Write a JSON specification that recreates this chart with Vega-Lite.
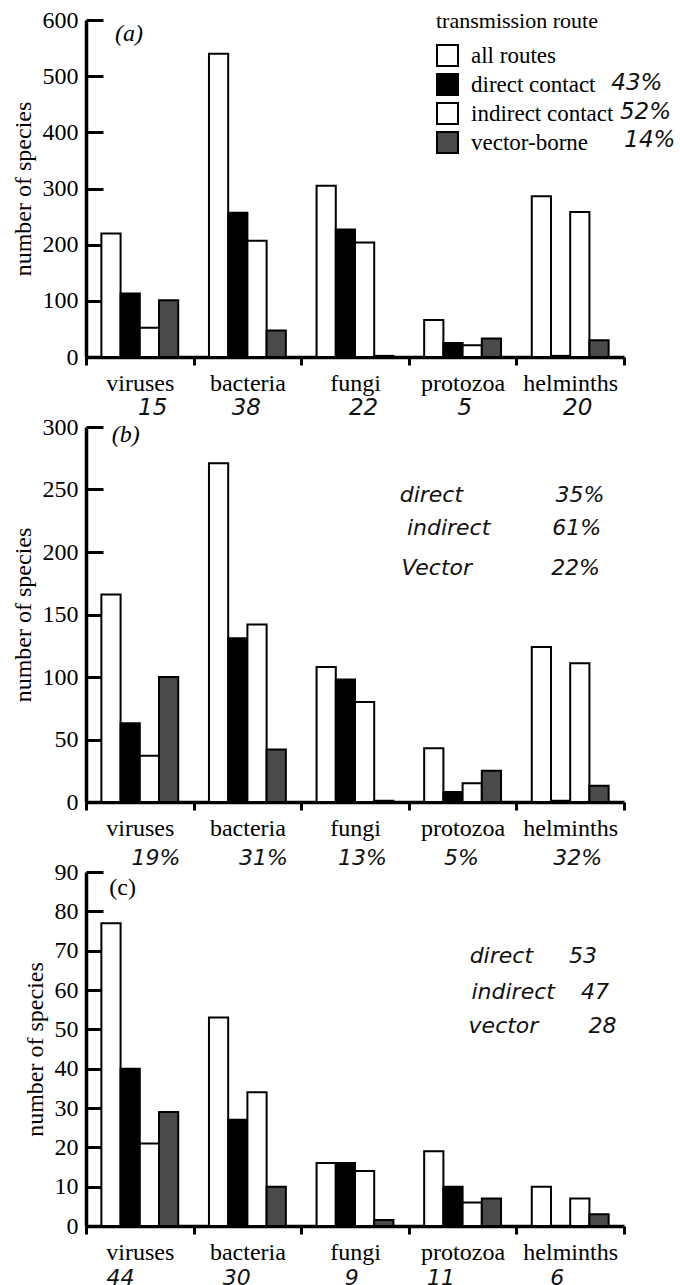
{
  "$schema": "https://vega.github.io/schema/vega-lite/v6.json",
  "background": "white",
  "padding": {"left": 11, "top": 8, "right": 0, "bottom": 0},
  "bounds": "flush",
  "spacing": 70,
  "config": {
    "font": "Liberation Serif",
    "view": {"stroke": null},
    "axisX": {
      "domainColor": "black", "domainWidth": 3.5, "tickColor": "black", "tickWidth": 3,
      "tickSize": 8, "tickBand": "extent", "labelPadding": 6, "labelAngle": 0,
      "labelFont": "Liberation Serif", "labelFontSize": 24, "labelColor": "black", "title": null, "grid": false
    },
    "axisY": {
      "domainColor": "black", "domainWidth": 3.5, "tickColor": "black", "tickWidth": 3,
      "tickSize": -17, "labelPadding": 25, "labelFont": "Liberation Serif", "labelFontSize": 24,
      "labelColor": "black", "titleFont": "Liberation Serif", "titleFontSize": 24,
      "titleFontWeight": "normal", "titleColor": "black", "titlePadding": 7, "grid": false
    }
  },
  "datasets": {
    "bars": [
      {"panel": "a", "taxon": "viruses", "route": "all routes", "n": 220},
      {"panel": "a", "taxon": "viruses", "route": "direct contact", "n": 113},
      {"panel": "a", "taxon": "viruses", "route": "indirect contact", "n": 52},
      {"panel": "a", "taxon": "viruses", "route": "vector-borne", "n": 101},
      {"panel": "a", "taxon": "bacteria", "route": "all routes", "n": 540},
      {"panel": "a", "taxon": "bacteria", "route": "direct contact", "n": 257},
      {"panel": "a", "taxon": "bacteria", "route": "indirect contact", "n": 207},
      {"panel": "a", "taxon": "bacteria", "route": "vector-borne", "n": 47},
      {"panel": "a", "taxon": "fungi", "route": "all routes", "n": 305},
      {"panel": "a", "taxon": "fungi", "route": "direct contact", "n": 227},
      {"panel": "a", "taxon": "fungi", "route": "indirect contact", "n": 204},
      {"panel": "a", "taxon": "fungi", "route": "vector-borne", "n": 2},
      {"panel": "a", "taxon": "protozoa", "route": "all routes", "n": 66},
      {"panel": "a", "taxon": "protozoa", "route": "direct contact", "n": 25},
      {"panel": "a", "taxon": "protozoa", "route": "indirect contact", "n": 21},
      {"panel": "a", "taxon": "protozoa", "route": "vector-borne", "n": 33},
      {"panel": "a", "taxon": "helminths", "route": "all routes", "n": 286},
      {"panel": "a", "taxon": "helminths", "route": "direct contact", "n": 2},
      {"panel": "a", "taxon": "helminths", "route": "indirect contact", "n": 258},
      {"panel": "a", "taxon": "helminths", "route": "vector-borne", "n": 30},
      {"panel": "b", "taxon": "viruses", "route": "all routes", "n": 166},
      {"panel": "b", "taxon": "viruses", "route": "direct contact", "n": 63},
      {"panel": "b", "taxon": "viruses", "route": "indirect contact", "n": 37},
      {"panel": "b", "taxon": "viruses", "route": "vector-borne", "n": 100},
      {"panel": "b", "taxon": "bacteria", "route": "all routes", "n": 271},
      {"panel": "b", "taxon": "bacteria", "route": "direct contact", "n": 131},
      {"panel": "b", "taxon": "bacteria", "route": "indirect contact", "n": 142},
      {"panel": "b", "taxon": "bacteria", "route": "vector-borne", "n": 42},
      {"panel": "b", "taxon": "fungi", "route": "all routes", "n": 108},
      {"panel": "b", "taxon": "fungi", "route": "direct contact", "n": 98},
      {"panel": "b", "taxon": "fungi", "route": "indirect contact", "n": 80},
      {"panel": "b", "taxon": "fungi", "route": "vector-borne", "n": 1},
      {"panel": "b", "taxon": "protozoa", "route": "all routes", "n": 43},
      {"panel": "b", "taxon": "protozoa", "route": "direct contact", "n": 8},
      {"panel": "b", "taxon": "protozoa", "route": "indirect contact", "n": 15},
      {"panel": "b", "taxon": "protozoa", "route": "vector-borne", "n": 25},
      {"panel": "b", "taxon": "helminths", "route": "all routes", "n": 124},
      {"panel": "b", "taxon": "helminths", "route": "direct contact", "n": 1},
      {"panel": "b", "taxon": "helminths", "route": "indirect contact", "n": 111},
      {"panel": "b", "taxon": "helminths", "route": "vector-borne", "n": 13},
      {"panel": "c", "taxon": "viruses", "route": "all routes", "n": 77},
      {"panel": "c", "taxon": "viruses", "route": "direct contact", "n": 40},
      {"panel": "c", "taxon": "viruses", "route": "indirect contact", "n": 21},
      {"panel": "c", "taxon": "viruses", "route": "vector-borne", "n": 29},
      {"panel": "c", "taxon": "bacteria", "route": "all routes", "n": 53},
      {"panel": "c", "taxon": "bacteria", "route": "direct contact", "n": 27},
      {"panel": "c", "taxon": "bacteria", "route": "indirect contact", "n": 34},
      {"panel": "c", "taxon": "bacteria", "route": "vector-borne", "n": 10},
      {"panel": "c", "taxon": "fungi", "route": "all routes", "n": 16},
      {"panel": "c", "taxon": "fungi", "route": "direct contact", "n": 16},
      {"panel": "c", "taxon": "fungi", "route": "indirect contact", "n": 14},
      {"panel": "c", "taxon": "fungi", "route": "vector-borne", "n": 1.5},
      {"panel": "c", "taxon": "protozoa", "route": "all routes", "n": 19},
      {"panel": "c", "taxon": "protozoa", "route": "direct contact", "n": 10},
      {"panel": "c", "taxon": "protozoa", "route": "indirect contact", "n": 6},
      {"panel": "c", "taxon": "protozoa", "route": "vector-borne", "n": 7},
      {"panel": "c", "taxon": "helminths", "route": "all routes", "n": 10},
      {"panel": "c", "taxon": "helminths", "route": "direct contact", "n": 0},
      {"panel": "c", "taxon": "helminths", "route": "indirect contact", "n": 7},
      {"panel": "c", "taxon": "helminths", "route": "vector-borne", "n": 3}
    ],
    "notes": [
      {"panel": "a", "kind": "tag", "x": 0.4, "y": 575, "text": "(a)"},
      {"panel": "a", "kind": "hand", "x": 5.12, "y": 488, "text": "43%"},
      {"panel": "a", "kind": "hand", "x": 5.2, "y": 436, "text": "52%"},
      {"panel": "a", "kind": "hand", "x": 5.24, "y": 386, "text": "14%"},
      {"panel": "a", "kind": "hand", "x": 0.62, "y": -91, "text": "15"},
      {"panel": "a", "kind": "hand", "x": 1.49, "y": -91, "text": "38"},
      {"panel": "a", "kind": "hand", "x": 2.58, "y": -91, "text": "22"},
      {"panel": "a", "kind": "hand", "x": 3.52, "y": -91, "text": "5"},
      {"panel": "a", "kind": "hand", "x": 4.57, "y": -91, "text": "20"},
      {"panel": "b", "kind": "tag", "x": 0.37, "y": 294, "text": "(b)"},
      {"panel": "b", "kind": "hand", "x": 3.21, "y": 246, "text": "direct"},
      {"panel": "b", "kind": "hand", "x": 4.59, "y": 246, "text": "35%"},
      {"panel": "b", "kind": "hand", "x": 3.37, "y": 219, "text": "indirect"},
      {"panel": "b", "kind": "hand", "x": 4.56, "y": 219, "text": "61%"},
      {"panel": "b", "kind": "hand", "x": 3.26, "y": 187, "text": "Vector"},
      {"panel": "b", "kind": "hand", "x": 4.55, "y": 187, "text": "22%"},
      {"panel": "b", "kind": "hand", "x": 0.65, "y": -45, "text": "19%"},
      {"panel": "b", "kind": "hand", "x": 1.65, "y": -45, "text": "31%"},
      {"panel": "b", "kind": "hand", "x": 2.57, "y": -45, "text": "13%"},
      {"panel": "b", "kind": "hand", "x": 3.49, "y": -45, "text": "5%"},
      {"panel": "b", "kind": "hand", "x": 4.57, "y": -45, "text": "32%"},
      {"panel": "c", "kind": "tag", "x": 0.34, "y": 86, "text": "(c)"},
      {"panel": "c", "kind": "hand", "x": 3.86, "y": 68.6, "text": "direct"},
      {"panel": "c", "kind": "hand", "x": 4.62, "y": 68.6, "text": "53"},
      {"panel": "c", "kind": "hand", "x": 3.97, "y": 59.5, "text": "indirect"},
      {"panel": "c", "kind": "hand", "x": 4.73, "y": 59.5, "text": "47"},
      {"panel": "c", "kind": "hand", "x": 3.88, "y": 50.9, "text": "vector"},
      {"panel": "c", "kind": "hand", "x": 4.8, "y": 50.9, "text": "28"},
      {"panel": "c", "kind": "hand", "x": 0.32, "y": -13.2, "text": "44"},
      {"panel": "c", "kind": "hand", "x": 1.4, "y": -13.2, "text": "30"},
      {"panel": "c", "kind": "hand", "x": 2.47, "y": -13.2, "text": "9"},
      {"panel": "c", "kind": "hand", "x": 3.3, "y": -13.2, "text": "11"},
      {"panel": "c", "kind": "hand", "x": 4.38, "y": -13.2, "text": "6"}
    ]
  },
  "resolve": {"legend": {"color": "independent"}},
  "vconcat": [
    {
      "width": 538, "height": 337,
      "resolve": {"scale": {"x": "independent"}},
      "layer": [
        {
          "data": {"name": "bars"},
          "transform": [{"filter": "datum.panel == 'a'"}],
          "mark": {"type": "bar", "stroke": "black", "strokeWidth": 2},
          "encoding": {
            "x": {"field": "taxon", "type": "nominal", "sort": ["viruses", "bacteria", "fungi", "protozoa", "helminths"], "scale": {"paddingInner": 0, "paddingOuter": 0}},
            "xOffset": {"field": "route", "type": "nominal", "sort": ["all routes", "direct contact", "indirect contact", "vector-borne"], "scale": {"paddingInner": 0, "paddingOuter": 0.8}},
            "y": {"field": "n", "type": "quantitative", "scale": {"domain": [0, 600], "nice": false}, "axis": {"values": [0, 100, 200, 300, 400, 500, 600], "title": "number of species"}},
            "color": {
              "field": "route", "type": "nominal",
              "scale": {"domain": ["all routes", "direct contact", "indirect contact", "vector-borne"], "range": ["#ffffff", "#000000", "#ffffff", "#4a4a4a"]},
              "legend": {
                "title": "transmission route", "orient": "none", "legendX": 350, "legendY": -9, "padding": 0,
                "titleFont": "Liberation Serif", "titleFontSize": 22, "titleFontWeight": "normal", "titleColor": "black", "titlePadding": 11,
                "labelFont": "Liberation Serif", "labelFontSize": 23, "labelColor": "black", "labelOffset": 12,
                "symbolType": "square", "symbolSize": 441, "symbolStrokeColor": "black", "symbolStrokeWidth": 2, "symbolOpacity": 1, "rowPadding": 0
              }
            }
          }
        },
        {
          "data": {"name": "notes"},
          "transform": [{"filter": "datum.panel == 'a' && datum.kind == 'tag'"}],
          "mark": {"type": "text", "font": "Liberation Serif", "fontStyle": "italic", "fontSize": 24, "align": "center", "baseline": "middle", "color": "black"},
          "encoding": {
            "x": {"field": "x", "type": "quantitative", "scale": {"domain": [0, 5], "nice": false}, "axis": null},
            "y": {"field": "y", "type": "quantitative", "axis": {"values": [0, 100, 200, 300, 400, 500, 600], "title": "number of species"}},
            "text": {"field": "text"}
          }
        },
        {
          "data": {"name": "notes"},
          "transform": [{"filter": "datum.panel == 'a' && datum.kind == 'hand'"}],
          "mark": {"type": "text", "font": "DejaVu Sans", "fontStyle": "italic", "fontWeight": 300, "fontSize": 23, "align": "center", "baseline": "middle", "color": "#111111"},
          "encoding": {
            "x": {"field": "x", "type": "quantitative", "scale": {"domain": [0, 5], "nice": false}, "axis": null},
            "y": {"field": "y", "type": "quantitative", "axis": {"values": [0, 100, 200, 300, 400, 500, 600], "title": "number of species"}},
            "text": {"field": "text"}
          }
        }
      ]
    },
    {
      "width": 538, "height": 375,
      "resolve": {"scale": {"x": "independent"}},
      "layer": [
        {
          "data": {"name": "bars"},
          "transform": [{"filter": "datum.panel == 'b'"}],
          "mark": {"type": "bar", "stroke": "black", "strokeWidth": 2},
          "encoding": {
            "x": {"field": "taxon", "type": "nominal", "sort": ["viruses", "bacteria", "fungi", "protozoa", "helminths"], "scale": {"paddingInner": 0, "paddingOuter": 0}},
            "xOffset": {"field": "route", "type": "nominal", "sort": ["all routes", "direct contact", "indirect contact", "vector-borne"], "scale": {"paddingInner": 0, "paddingOuter": 0.8}},
            "y": {"field": "n", "type": "quantitative", "scale": {"domain": [0, 300], "nice": false}, "axis": {"values": [0, 50, 100, 150, 200, 250, 300], "title": "number of species"}},
            "color": {
              "field": "route", "type": "nominal",
              "scale": {"domain": ["all routes", "direct contact", "indirect contact", "vector-borne"], "range": ["#ffffff", "#000000", "#ffffff", "#4a4a4a"]},
              "legend": null
            }
          }
        },
        {
          "data": {"name": "notes"},
          "transform": [{"filter": "datum.panel == 'b' && datum.kind == 'tag'"}],
          "mark": {"type": "text", "font": "Liberation Serif", "fontStyle": "italic", "fontSize": 24, "align": "center", "baseline": "middle", "color": "black"},
          "encoding": {
            "x": {"field": "x", "type": "quantitative", "scale": {"domain": [0, 5], "nice": false}, "axis": null},
            "y": {"field": "y", "type": "quantitative", "axis": {"values": [0, 50, 100, 150, 200, 250, 300], "title": "number of species"}},
            "text": {"field": "text"}
          }
        },
        {
          "data": {"name": "notes"},
          "transform": [{"filter": "datum.panel == 'b' && datum.kind == 'hand'"}],
          "mark": {"type": "text", "font": "DejaVu Sans", "fontStyle": "italic", "fontWeight": 300, "fontSize": 22, "align": "center", "baseline": "middle", "color": "#111111"},
          "encoding": {
            "x": {"field": "x", "type": "quantitative", "scale": {"domain": [0, 5], "nice": false}, "axis": null},
            "y": {"field": "y", "type": "quantitative", "axis": {"values": [0, 50, 100, 150, 200, 250, 300], "title": "number of species"}},
            "text": {"field": "text"}
          }
        }
      ]
    },
    {
      "width": 538, "height": 354,
      "resolve": {"scale": {"x": "independent"}},
      "layer": [
        {
          "data": {"name": "bars"},
          "transform": [{"filter": "datum.panel == 'c'"}],
          "mark": {"type": "bar", "stroke": "black", "strokeWidth": 2},
          "encoding": {
            "x": {"field": "taxon", "type": "nominal", "sort": ["viruses", "bacteria", "fungi", "protozoa", "helminths"], "scale": {"paddingInner": 0, "paddingOuter": 0}},
            "xOffset": {"field": "route", "type": "nominal", "sort": ["all routes", "direct contact", "indirect contact", "vector-borne"], "scale": {"paddingInner": 0, "paddingOuter": 0.8}},
            "y": {"field": "n", "type": "quantitative", "scale": {"domain": [0, 90], "nice": false}, "axis": {"values": [0, 10, 20, 30, 40, 50, 60, 70, 80, 90], "title": "number of species"}},
            "color": {
              "field": "route", "type": "nominal",
              "scale": {"domain": ["all routes", "direct contact", "indirect contact", "vector-borne"], "range": ["#ffffff", "#000000", "#ffffff", "#4a4a4a"]},
              "legend": null
            }
          }
        },
        {
          "data": {"name": "notes"},
          "transform": [{"filter": "datum.panel == 'c' && datum.kind == 'tag'"}],
          "mark": {"type": "text", "font": "Liberation Serif", "fontSize": 24, "align": "center", "baseline": "middle", "color": "black"},
          "encoding": {
            "x": {"field": "x", "type": "quantitative", "scale": {"domain": [0, 5], "nice": false}, "axis": null},
            "y": {"field": "y", "type": "quantitative", "axis": {"values": [0, 10, 20, 30, 40, 50, 60, 70, 80, 90], "title": "number of species"}},
            "text": {"field": "text"}
          }
        },
        {
          "data": {"name": "notes"},
          "transform": [{"filter": "datum.panel == 'c' && datum.kind == 'hand'"}],
          "mark": {"type": "text", "font": "DejaVu Sans", "fontStyle": "italic", "fontWeight": 300, "fontSize": 22, "align": "center", "baseline": "middle", "color": "#111111"},
          "encoding": {
            "x": {"field": "x", "type": "quantitative", "scale": {"domain": [0, 5], "nice": false}, "axis": null},
            "y": {"field": "y", "type": "quantitative", "axis": {"values": [0, 10, 20, 30, 40, 50, 60, 70, 80, 90], "title": "number of species"}},
            "text": {"field": "text"}
          }
        }
      ]
    }
  ]
}
